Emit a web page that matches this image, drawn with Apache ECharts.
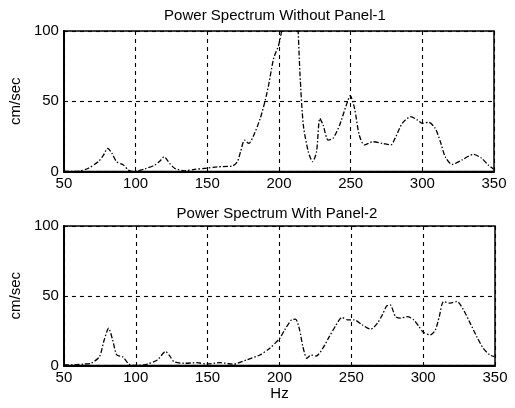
<!DOCTYPE html>
<html>
<head>
<meta charset="utf-8">
<script src="https://cdn.jsdelivr.net/npm/echarts@6/dist/echarts.min.js"></script>
<style>html,body{margin:0;padding:0;background:#fff;}#c{width:515px;height:408px;}</style>
</head>
<body>
<div id="c"></div>
<script>
// Panel 1: Power Spectrum Without Panel-1
var freq1 = [50,55,61,67,74,77.6,80.6,83.4,86.8,91.5,95,98,102,106.4,113.4,117,119.8,123.7,127.2,134,141,149,157,167.5,171,173.2,176,179,182.5,187,190.5,192.8,196.3,199.8,202,206,210,212.8,214.7,217,220.5,223.5,226.2,228.5,230.8,234.3,237.7,242.3,246.9,249.7,252.7,256,259.6,265.4,272.3,278,281.5,286,291.9,296.5,300,304.5,309,312.6,316,320.7,327.6,335.6,341.4,346,349.5];
var amp1  = [0,0,0.3,2.3,7,11.7,16.5,13,7,4.6,1,0,0.5,1.8,4.6,7.5,10.5,5.8,2.3,0.5,1.5,2.3,3.3,4,7,14,22.4,20,26,38,51,61.6,80.5,90,101,130,130,110,68.7,33,14,7,14,37.8,33,22.4,23.6,33,47,54,45,26,18.9,21.2,20,18.9,24.8,34.3,39,36.7,34.3,35,30.7,21.2,10.5,5,8.2,12.2,9.4,4.6,1.8];
// Panel 2: Power Spectrum With Panel-2
var freq2 = [50,57,64,68.9,74.7,78,81.1,83.9,86.8,90.8,95.4,100,108,115,120.7,124,126.5,133.4,142.6,149.5,158.7,168,177,186.3,193.3,200.2,203.6,208.3,211.2,214,216.3,219.1,222,225.5,230.2,234.7,239.4,243.5,247.4,252,257.8,263.5,268.2,271.6,274.5,277,280.8,284.3,289,293.5,297,300.4,305,308.5,311.2,314.2,318.8,323.5,328,332.7,337.3,341.8,346.5,349.5];
var amp2  = [0.5,0.5,1,1.6,6.3,18.3,26.7,18.3,7.5,6.3,1,0,1,4,10,6.3,2.7,1.6,2,1,2,1,4,7.5,12.4,19.5,25.5,32.7,33.2,25.5,13.5,5.2,7.5,6.8,12.4,20.7,29,34.4,32.7,32.7,29,26,30.4,36.3,42.5,43.5,35,34,35,32.7,28,23.6,22,25.5,35,45.9,44.7,45.9,40,30.4,20.7,12.4,7.5,6.3];
var xTicks = [50,100,150,200,250,300,350];
var yTicks = [0,50,100];
var titles = ['Power Spectrum Without Panel-1','Power Spectrum With Panel-2'];
var yName = 'cm/sec';
var xName = 'Hz';

function pairs(xs, ys){ return xs.map(function(x,i){ return [x, ys[i]]; }); }

var FONT = '"Liberation Sans", Arial, Helvetica, sans-serif';
var gridLine = {show:true, lineStyle:{color:'#000', width:1.1, type:[4,4]}};
function xAxis(gi, withName){
  return {
    type:'value', gridIndex:gi, min:xTicks[0], max:xTicks[xTicks.length-1], interval:50,
    axisLine:{show:true, onZero:false, lineStyle:{color:'#000', width:2}},
    axisTick:{show:false},
    axisLabel:{color:'#000', fontSize:15, fontFamily:FONT, margin:5},
    splitLine:gridLine,
    name: withName ? xName : '', nameLocation:'middle', nameGap:20,
    nameTextStyle:{color:'#000', fontSize:15, fontFamily:FONT}
  };
}
function yAxis(gi){
  return {
    type:'value', gridIndex:gi, min:yTicks[0], max:yTicks[yTicks.length-1], interval:50,
    axisLine:{show:true, lineStyle:{color:'#000', width:2}},
    axisTick:{show:false},
    axisLabel:{color:'#000', fontSize:15, fontFamily:FONT, margin:5},
    splitLine:gridLine,
    name:yName, nameLocation:'middle', nameGap:34, nameRotate:90,
    nameTextStyle:{color:'#000', fontSize:15, fontFamily:FONT}
  };
}
var lineStyle = {color:'#000', width:1.3, type:[5,2,1.5,2]};

var chart = echarts.init(document.getElementById('c'), null, {renderer:'canvas'});
chart.setOption({
  backgroundColor:'#fff',
  animation:false,
  title:[
    {text:titles[0], left:270, top:3, textAlign:'center', textStyle:{color:'#000', fontSize:15, fontWeight:'normal', fontFamily:FONT}},
    {text:titles[1], left:272, top:201, textAlign:'center', textStyle:{color:'#000', fontSize:15, fontWeight:'normal', fontFamily:FONT}}
  ],
  grid:[
    {left:60, right:21, top:31, bottom:236.5, show:true, borderColor:'#000', borderWidth:1.5, backgroundColor:'transparent'},
    {left:61, right:20, top:226, bottom:42.5, show:true, borderColor:'#000', borderWidth:1.5, backgroundColor:'transparent'}
  ],
  xAxis:[xAxis(0,false), xAxis(1,true)],
  yAxis:[yAxis(0), yAxis(1)],
  series:[
    {type:'line', xAxisIndex:0, yAxisIndex:0, data:pairs(freq1, amp1), showSymbol:false, smooth:0.25, clip:true, lineStyle:lineStyle},
    {type:'line', xAxisIndex:1, yAxisIndex:1, data:pairs(freq2, amp2), showSymbol:false, smooth:0.25, clip:true, lineStyle:lineStyle}
  ]
});
</script>
</body>
</html>
